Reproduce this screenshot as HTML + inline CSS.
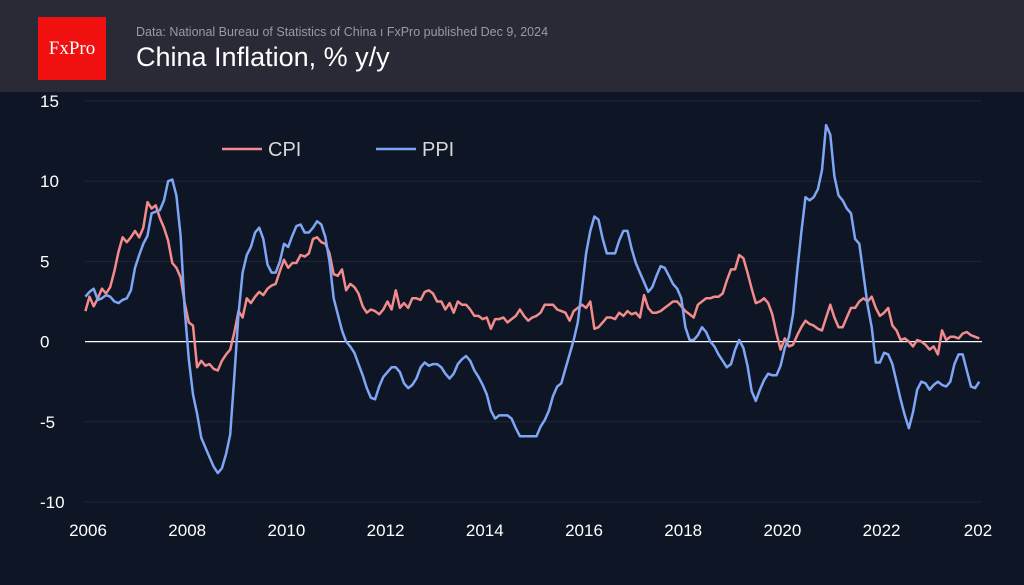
<!DOCTYPE html>
<html><head><meta charset="utf-8"><style>
html,body{margin:0;padding:0;background:#0e1524;}
svg{display:block;font-family:"Liberation Sans",sans-serif;}
</style></head><body>
<svg id="chart" width="1024" height="585" viewBox="0 0 1024 585">
<rect x="0" y="0" width="1024" height="585" fill="#0e1524"/>
<rect x="0" y="0" width="1024" height="92" fill="#292a35"/>
<rect x="38" y="17" width="68" height="63" fill="#f01010"/>
<text x="72" y="54" fill="#fff" font-family="Liberation Serif,serif" font-size="19" text-anchor="middle">FxPro</text>
<text x="136" y="36" fill="#9a9aa2" font-size="12.5">Data: National Bureau of Statistics of China  ı  FxPro published Dec 9, 2024</text>
<text x="136" y="66" fill="#ffffff" font-size="27">China Inflation, % y/y</text>
<g id="grid"></g><g id="ylabels"></g><g id="xlabels"></g><g id="series"></g>
<g>
<line x1="222" y1="149" x2="262" y2="149" stroke="#f28b8b" stroke-width="2.5"/>
<text x="268" y="156" fill="#d8d8d8" font-size="20">CPI</text>
<line x1="376" y1="149" x2="416" y2="149" stroke="#7ea6f5" stroke-width="2.5"/>
<text x="422" y="156" fill="#d8d8d8" font-size="20">PPI</text>
</g>
</svg>
<script>
const startYear = 2006 + 10/12; // Nov 2006
const yTicks = [15,10,5,0,-5,-10];
const xTickLabels = ["2006","2008","2010","2012","2014","2016","2018","2020","2022","202"];
const cpi = [1.9,2.8,
2.2,2.7,3.3,3.0,3.4,4.4,5.6,6.5,6.2,6.5,6.9,6.5,
7.1,8.7,8.3,8.5,7.7,7.1,6.3,4.9,4.6,4.0,2.4,1.2,
1.0,-1.6,-1.2,-1.5,-1.4,-1.7,-1.8,-1.2,-0.8,-0.5,0.6,1.9,
1.5,2.7,2.4,2.8,3.1,2.9,3.3,3.5,3.6,4.4,5.1,4.6,
4.9,4.9,5.4,5.3,5.5,6.4,6.5,6.2,6.1,5.5,4.2,4.1,
4.5,3.2,3.6,3.4,3.0,2.2,1.8,2.0,1.9,1.7,2.0,2.5,
2.0,3.2,2.1,2.4,2.1,2.7,2.7,2.6,3.1,3.2,3.0,2.5,
2.5,2.0,2.4,1.8,2.5,2.3,2.3,2.0,1.6,1.6,1.4,1.5,
0.8,1.4,1.4,1.5,1.2,1.4,1.6,2.0,1.6,1.3,1.5,1.6,
1.8,2.3,2.3,2.3,2.0,1.9,1.8,1.3,1.9,2.1,2.3,2.1,
2.5,0.8,0.9,1.2,1.5,1.5,1.4,1.8,1.6,1.9,1.7,1.8,
1.5,2.9,2.1,1.8,1.8,1.9,2.1,2.3,2.5,2.5,2.2,1.9,
1.7,1.5,2.3,2.5,2.7,2.7,2.8,2.8,3.0,3.8,4.5,4.5,
5.4,5.2,4.3,3.3,2.4,2.5,2.7,2.4,1.7,0.5,-0.5,0.2,
-0.3,-0.2,0.4,0.9,1.3,1.1,1.0,0.8,0.7,1.5,2.3,1.5,
0.9,0.9,1.5,2.1,2.1,2.5,2.7,2.5,2.8,2.1,1.6,1.8,
2.1,1.0,0.7,0.1,0.2,0.0,-0.3,0.1,0.0,-0.2,-0.5,-0.3,
-0.8,0.7,0.1,0.3,0.3,0.2,0.5,0.6,0.4,0.3,0.2];
const ppi = [2.8,3.1,
3.3,2.6,2.7,2.9,2.8,2.5,2.4,2.6,2.7,3.2,4.6,5.4,
6.1,6.6,8.0,8.1,8.2,8.8,10.0,10.1,9.1,6.6,2.0,-1.1,
-3.3,-4.5,-6.0,-6.6,-7.2,-7.8,-8.2,-7.9,-7.0,-5.8,-2.1,1.7,
4.3,5.4,5.9,6.8,7.1,6.4,4.8,4.3,4.3,5.0,6.1,5.9,
6.6,7.2,7.3,6.8,6.8,7.1,7.5,7.3,6.5,5.0,2.7,1.7,
0.7,0.0,-0.3,-0.7,-1.4,-2.1,-2.9,-3.5,-3.6,-2.8,-2.2,-1.9,
-1.6,-1.6,-1.9,-2.6,-2.9,-2.7,-2.3,-1.6,-1.3,-1.5,-1.4,-1.4,
-1.6,-2.0,-2.3,-2.0,-1.4,-1.1,-0.9,-1.2,-1.8,-2.2,-2.7,-3.3,
-4.3,-4.8,-4.6,-4.6,-4.6,-4.8,-5.4,-5.9,-5.9,-5.9,-5.9,-5.9,
-5.3,-4.9,-4.3,-3.4,-2.8,-2.6,-1.7,-0.8,0.1,1.2,3.3,5.5,
6.9,7.8,7.6,6.4,5.5,5.5,5.5,6.3,6.9,6.9,5.8,4.9,
4.3,3.7,3.1,3.4,4.1,4.7,4.6,4.1,3.6,3.3,2.7,0.9,
0.1,0.1,0.4,0.9,0.6,0.0,-0.3,-0.8,-1.2,-1.6,-1.4,-0.5,
0.1,-0.4,-1.5,-3.1,-3.7,-3.0,-2.4,-2.0,-2.1,-2.1,-1.5,-0.4,
0.3,1.7,4.4,6.8,9.0,8.8,9.0,9.5,10.7,13.5,12.9,10.3,
9.1,8.8,8.3,8.0,6.4,6.1,4.2,2.3,0.9,-1.3,-1.3,-0.7,
-0.8,-1.4,-2.5,-3.6,-4.6,-5.4,-4.4,-3.0,-2.5,-2.6,-3.0,-2.7,
-2.5,-2.7,-2.8,-2.5,-1.4,-0.8,-0.8,-1.8,-2.8,-2.9,-2.5];

const NS = "http://www.w3.org/2000/svg";
function yScale(v){ return 341.6 - v*16.04; }
function xScale(i){ return 44 + (startYear - 2006 + i/12) * 49.66; }
function xTick(k){ return 88 + k*99.2; }
function mk(tag, attrs, parent){ const e=document.createElementNS(NS,tag); for(const k in attrs) e.setAttribute(k,attrs[k]); parent.appendChild(e); return e; }

const grid=document.getElementById('grid'), yl=document.getElementById('ylabels'), xl=document.getElementById('xlabels'), ser=document.getElementById('series');
yTicks.forEach(v=>{
  const ln = mk('line',{x1:85,x2:982,y1:yScale(v),y2:yScale(v),stroke:v===0?'#ffffff':'#1f2738','stroke-width':v===0?1.2:1},grid);
  
  
  const t = mk('text',{x:40,y:yScale(v)+6,fill:'#ffffff','font-size':17},yl);
  t.textContent = String(v);
  
  
});
xTickLabels.forEach((lab,k)=>{
  const t = mk('text',{x:xTick(k),y:536,fill:'#ffffff','font-size':17,'text-anchor':k===xTickLabels.length-1?'start':'middle'},xl);
  if(k===xTickLabels.length-1) t.setAttribute('x', xTick(k)-17);
  t.textContent = lab;
  
  
});
function line(arr,color,name){
  const d = arr.map((v,i)=>(i?'L':'M')+xScale(i).toFixed(1)+','+yScale(v).toFixed(1)).join(' ');
  const p = mk('path',{d:d,fill:'none',stroke:color,'stroke-width':2.5,'stroke-linejoin':'round'},ser);
  
  
}
line(cpi,'#f28b8b','cpi-line');
line(ppi,'#7ea6f5','ppi-line');
</script>
</body></html>
